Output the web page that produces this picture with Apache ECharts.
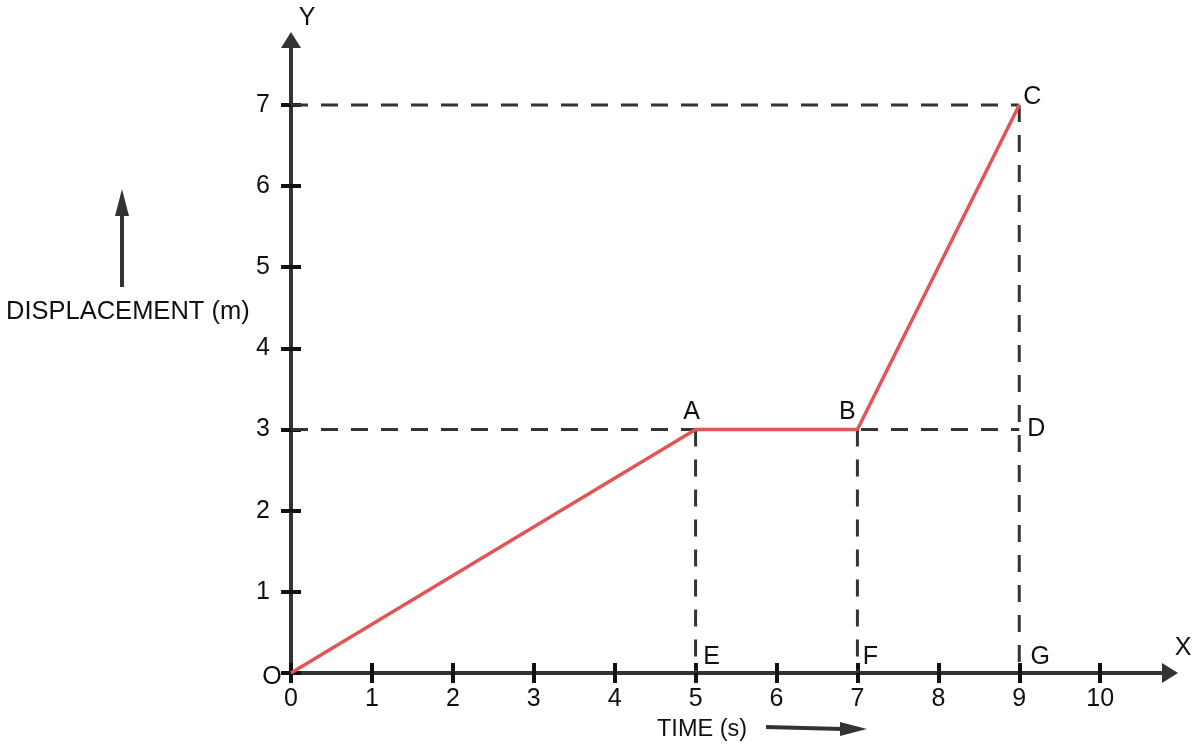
<!DOCTYPE html>
<html>
<head>
<meta charset="utf-8">
<script src="https://cdn.jsdelivr.net/npm/echarts@6/dist/echarts.min.js"></script>
<style>html,body{margin:0;padding:0;background:#fff}#c{width:1200px;height:752px}</style>
</head>
<body>
<div id="c"></div>
<script>
// ---- data ----
const timeTicks = [0,1,2,3,4,5,6,7,8,9,10];
const timeLabels = [0,1,2,3,4,5,6,7,8,9,10];
const dispTicks = [0,1,2,3,4,5,6,7];
const dispLabels = [1,2,3,4,5,6,7];
const pathTime = [0,5,7,9];
const pathDisp = [0,3,3,7];
const hGuideLevels = [3,7];          // horizontal dashed guides (to t = 9)
const hGuideEnd = 9;
const vGuideTimes = [5,7,9];         // vertical dashed guides
const vGuideTops = [3,3,7];
const pointNames = ['O','A','B','C','D','E','F','G'];
const pointTime  = [0,5,7,9,9,5,7,9];
const pointDisp  = [0,3,3,7,3,0,0,0];
const pointOffsets = [[-19,4],[-4,-17],[-10,-17],[13,-8],[17,0],[16,-16],[13,-16],[21,-16]];

const FONT = 'Liberation Sans, Arial, sans-serif';
const chart = echarts.init(document.getElementById('c'));

const series = [];
hGuideLevels.forEach(y => series.push({
  type:'line', data:[[0,y],[hGuideEnd,y]], symbol:'none', silent:true, z:2,
  lineStyle:{color:'#333', width:3, type:[17,13]}
}));
vGuideTimes.forEach((x,i) => series.push({
  type:'line', data:[[x,vGuideTops[i]],[x,0]], symbol:'none', silent:true, z:2,
  lineStyle:{color:'#333', width:3, type:[17,13]}
}));
series.push({
  type:'line', data: pathTime.map((t,i)=>[t,pathDisp[i]]), symbol:'none', z:5,
  lineStyle:{color:'#e05555', width:3.5}
});
series.push({
  type:'scatter', symbolSize:0, z:6, silent:true,
  data: pointNames.map((n,i)=>({name:n, value:[pointTime[i],pointDisp[i]],
    label:{offset:pointOffsets[i]}})),
  itemStyle:{color:'#111', opacity:0},
  label:{show:true, position:'inside', formatter:p=>p.name, color:'#111', opacity:1,
    textBorderWidth:0, fontSize:25, fontFamily:FONT}
});

const xBase = {type:'value', min:0, max:10.9, interval:1, position:'bottom', splitLine:{show:false}};
const yBase = {type:'value', min:0, max:7.8, interval:1, position:'left', splitLine:{show:false}};

chart.setOption({
  animation:false,
  backgroundColor:'#fff',
  grid:{left:291, right:27, top:40, bottom:79, containLabel:false},
  xAxis:[
    Object.assign({}, xBase, {
      axisLine:{show:true, lineStyle:{color:'#333', width:4}, symbol:['none','triangle'], symbolSize:[20,16], symbolOffset:[0,-3]},
      axisTick:{show:true, inside:true, length:10, lineStyle:{color:'#111', width:4}, customValues:timeTicks},
      axisLabel:{show:true, margin:14, fontSize:25, color:'#111', fontFamily:FONT, customValues:timeLabels}
    }),
    Object.assign({}, xBase, {
      axisLine:{show:false},
      axisTick:{show:true, inside:false, length:10, lineStyle:{color:'#111', width:4}, customValues:timeTicks},
      axisLabel:{show:false}
    })
  ],
  yAxis:[
    Object.assign({}, yBase, {
      axisLine:{show:true, lineStyle:{color:'#333', width:4}, symbol:['none','triangle'], symbolSize:[20,16], symbolOffset:[0,0]},
      axisTick:{show:true, inside:true, length:10, lineStyle:{color:'#111', width:4}, customValues:dispTicks},
      axisLabel:{show:true, margin:21, fontSize:25, color:'#111', fontFamily:FONT, customValues:dispLabels}
    }),
    Object.assign({}, yBase, {
      axisLine:{show:false},
      axisTick:{show:true, inside:false, length:10, lineStyle:{color:'#111', width:4}, customValues:dispTicks},
      axisLabel:{show:false}
    })
  ],
  graphic:[
    {type:'text', x:307, y:18, style:{text:'Y', font:'25px '+FONT, fill:'#111', textAlign:'center', textVerticalAlign:'middle'}},
    {type:'text', x:1183, y:648, style:{text:'X', font:'25px '+FONT, fill:'#111', textAlign:'center', textVerticalAlign:'middle'}},
    {type:'text', x:6, y:312, style:{text:'DISPLACEMENT (m)', font:'25.5px '+FONT, fill:'#111', textAlign:'left', textVerticalAlign:'middle'}},
    {type:'line', shape:{x1:122, y1:287, x2:122, y2:212}, style:{stroke:'#333', lineWidth:4}},
    {type:'polygon', shape:{points:[[122,189],[115,216],[129,216]]}, style:{fill:'#333'}},
    {type:'text', x:657, y:730, style:{text:'TIME (s)', font:'23.5px '+FONT, fill:'#111', textAlign:'left', textVerticalAlign:'middle'}},
    {type:'line', shape:{x1:766, y1:727, x2:842, y2:729}, style:{stroke:'#333', lineWidth:4}},
    {type:'polygon', shape:{points:[[867,729],[840,722],[840,736]]}, style:{fill:'#333'}}
  ],
  series: series
});
</script>
</body>
</html>
